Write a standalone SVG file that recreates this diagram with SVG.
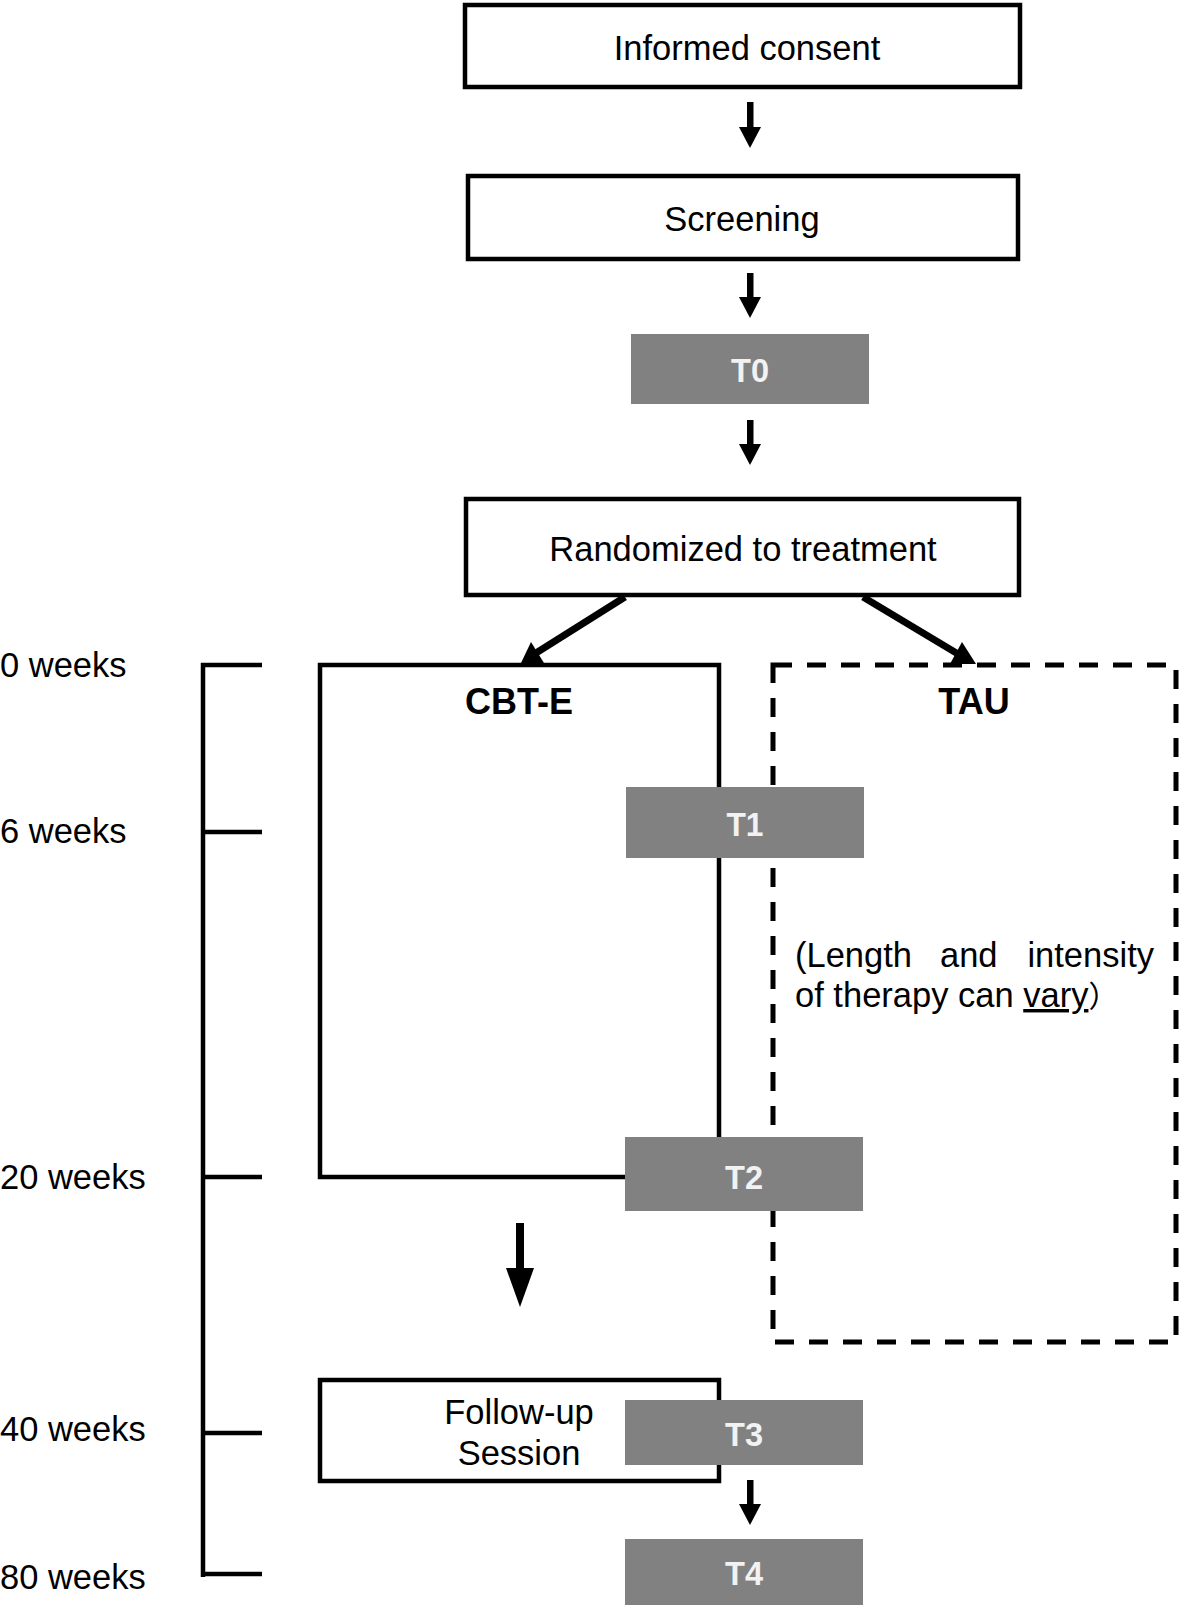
<svg xmlns="http://www.w3.org/2000/svg" width="1181" height="1605" viewBox="0 0 1181 1605">
<defs>
<style>
.box{fill:#fff;stroke:#000;stroke-width:4.5}
.open{fill:none;stroke:#000;stroke-width:4.5}
.dash{fill:none;stroke:#000;stroke-width:5;stroke-dasharray:19 15}
.gray{fill:#818181;stroke:none}
.t{font-family:"Liberation Sans",Arial,sans-serif;font-size:34.5px;fill:#000}
.tc{text-anchor:middle}
.b{font-weight:bold;font-size:36px}
.tl{font-family:"Liberation Sans",Arial,sans-serif;font-weight:bold;font-size:34px;fill:#f2f2f2;text-anchor:middle}
.ln{stroke:#000;stroke-width:4.5;fill:none}
.ah{fill:#000}
</style>
</defs>
<rect width="1181" height="1605" fill="#fff"/>

<g id="timeline">
<line class="ln" x1="203" y1="663" x2="203" y2="1577"/>
<line class="ln" x1="201" y1="665" x2="262" y2="665"/>
<line class="ln" x1="201" y1="832" x2="262" y2="832"/>
<line class="ln" x1="201" y1="1177" x2="262" y2="1177"/>
<line class="ln" x1="201" y1="1433" x2="262" y2="1433"/>
<line class="ln" x1="201" y1="1574" x2="262" y2="1574"/>
<text class="t" x="0" y="677">0 weeks</text>
<text class="t" x="0" y="843">6 weeks</text>
<text class="t" x="0" y="1189">20 weeks</text>
<text class="t" x="0" y="1441">40 weeks</text>
<text class="t" x="0" y="1589">80 weeks</text>
</g>

<g id="informed-consent">
<rect class="box" x="465" y="5" width="555" height="82"/>
<text class="t tc" x="747" y="60">Informed consent</text>
</g>

<g id="screening">
<rect class="box" x="468" y="176" width="550" height="83"/>
<text class="t tc" x="742" y="231">Screening</text>
</g>

<g id="randomized">
<rect class="box" x="466" y="499" width="553" height="96"/>
<text class="t tc" x="743" y="561">Randomized to treatment</text>
</g>

<g id="cbt-e">
<rect class="open" x="320" y="665" width="399" height="512"/>
<text class="t tc b" x="519" y="714">CBT-E</text>
</g>

<g id="tau">
<rect class="dash" x="773" y="665" width="403" height="677"/>
<text class="t tc b" x="974" y="714">TAU</text>
<text class="t" x="795" y="967">(Length</text>
<text class="t" x="940" y="967">and</text>
<text class="t" x="1154" y="967" text-anchor="end">intensity</text>
<text class="t" x="795" y="1007">of therapy can <tspan text-decoration="underline">vary</tspan><tspan font-family="'Noto Sans CJK JP',sans-serif" font-size="30">）</tspan></text>
</g>

<g id="follow-up">
<rect class="box" x="320" y="1380" width="399" height="101"/>
<text class="t tc" x="519" y="1424">Follow-up</text>
<text class="t tc" x="519" y="1465">Session</text>
</g>

<g id="T0">
<rect class="gray" x="631" y="334" width="238" height="70"/>
<text class="tl" x="750" y="382" textLength="38" lengthAdjust="spacingAndGlyphs">T0</text>
</g>
<g id="T1">
<rect class="gray" x="626" y="787" width="238" height="71"/>
<text class="tl" x="745" y="836" textLength="37" lengthAdjust="spacingAndGlyphs">T1</text>
</g>
<g id="T2">
<rect class="gray" x="625" y="1137" width="238" height="74"/>
<text class="tl" x="744" y="1189" textLength="38" lengthAdjust="spacingAndGlyphs">T2</text>
</g>
<g id="T3">
<rect class="gray" x="625" y="1400" width="238" height="65"/>
<text class="tl" x="744" y="1446" textLength="38" lengthAdjust="spacingAndGlyphs">T3</text>
</g>
<g id="T4">
<rect class="gray" x="625" y="1539" width="238" height="66"/>
<text class="tl" x="744" y="1585" textLength="38" lengthAdjust="spacingAndGlyphs">T4</text>
</g>

<g id="connectors">
<rect class="ah" x="747" y="102" width="6.5" height="27"/>
<polygon class="ah" points="739,127 761,127 750,148"/>
<rect class="ah" x="747" y="273" width="6.5" height="26"/>
<polygon class="ah" points="739,297 761,297 750,318"/>
<rect class="ah" x="747" y="420" width="6.5" height="26"/>
<polygon class="ah" points="739,444 761,444 750,465"/>
<line x1="625" y1="597" x2="536" y2="653" stroke="#000" stroke-width="7"/>
<polygon class="ah" points="521,663 531,642 544,663"/>
<line x1="863" y1="597" x2="958" y2="654" stroke="#000" stroke-width="7"/>
<polygon class="ah" points="976,664 950,664 962,642"/>
<rect class="ah" x="516" y="1223" width="8" height="47"/>
<polygon class="ah" points="506,1268 534,1268 520,1307"/>
<rect class="ah" x="747" y="1480" width="6.5" height="26"/>
<polygon class="ah" points="739,1504 761,1504 750,1525"/>
</g>
</svg>
